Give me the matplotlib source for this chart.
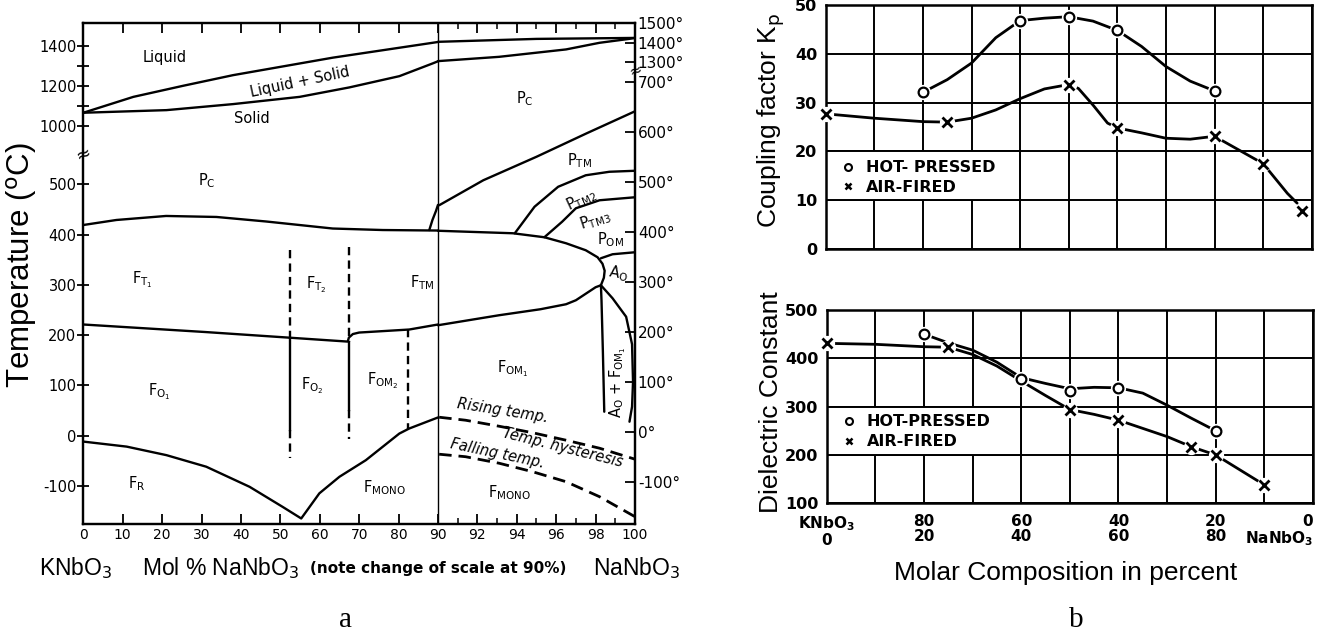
import numpy as np
import matplotlib
matplotlib.use('Agg')
import matplotlib.pyplot as plt
from matplotlib.lines import Line2D
from matplotlib.patches import Rectangle

# ======================= DATA : panel a (phase diagram) =======================
# Part 0-90 mol% NaNbO3 : temperatures read on the LEFT axis
liquidus_x = [0, 12.7, 25.3, 38, 63.3, 90]
liquidus_T = [1066, 1145, 1200, 1253, 1340, 1418]
solidus_x = [0, 21.1, 38, 54.9, 67.5, 80.2, 88.6, 90]
solidus_T = [1066, 1079, 1109, 1145, 1192, 1248, 1311, 1322]
curie_x = [0, 8.4, 21, 33.8, 46.4, 63.3, 76, 90]
curie_T = [419, 429, 437, 435, 426, 412, 409, 408]
ftm_low_x = [0, 31, 67.1, 67.4, 68.4, 70, 82.7, 90]
ftm_low_T = [221, 206, 187, 195, 202, 205, 211, 221]
ptm_start_x = [87.8, 88.6, 89.5, 90]
ptm_start_T = [409, 429, 447, 459]
fmono_x = [0, 11, 21.1, 31.2, 42.2, 50.6, 55.3, 59.9, 65, 71.7, 80.2, 82.7, 90]
fmono_T = [-12, -22, -39, -62, -102, -142, -165, -115, -82, -49, 4, 14, 36]
# vertical phase boundaries: composition, (top, bottom) temperatures, style
vb_x = [52.5, 52.5, 52.5, 67.5, 67.5, 67.5, 82.5]
vb_top = [369, 192, 11, 376, 187, 51, 213]
vb_bot = [192, 11, -45, 187, 51, -6, 14]
vb_style = ['--', '-', '--', '--', '-', '--', '--']

# Part 90-100 mol% NaNbO3 : temperatures read on the RIGHT axis
liqR_x = [90, 95, 100]
liqR_T = [1405, 1420, 1425]
solR_x = [90, 93.1, 96.5, 98.2, 99.7, 100]
solR_T = [1306, 1328, 1366, 1400, 1420, 1425]
curieR_x = [90, 93.8, 95.4, 96.5, 97.5, 98.1, 98.35, 98.46, 98.42, 98.27]
curieR_T = [402, 397, 389, 377, 363, 349, 336, 322, 308, 293]
ftmR_x = [90, 93.1, 95.2, 96.5, 97, 98, 98.27]
ftmR_T = [213, 233, 245, 255, 263, 289, 293]
aoL_x = [98.27, 98.3, 98.37, 98.44]
aoL_T = [293, 263, 160, 40]
aoR_x = [98.27, 98.86, 99.55, 99.85, 99.9, 99.85, 99.72]
aoR_T = [293, 267, 230, 175, 100, 50, 20]
pom_x = [98.27, 98.86, 100]
pom_T = [347, 355, 359]
ptm3_x = [95.4, 96.3, 97.0, 98.2, 100]
ptm3_T = [389, 420, 447, 463, 469]
ptm2_x = [93.9, 94.9, 96.1, 97.5, 98.7, 100]
ptm2_T = [397, 450, 490, 513, 520, 522]
ptm_x = [90.06, 92.3, 95.0, 97.55, 100]
ptm_T = [453, 503, 550, 597, 641]
rising_x = [90.06, 91.4, 93.1, 94.8, 96.5, 98.2, 100]
rising_T = [29, 23, 11, -2, -17, -33, -55]
falling_x = [90.06, 91.4, 93.1, 94.8, 96.5, 98.2, 100]
falling_T = [-45, -50, -63, -80, -100, -130, -170]

xticks_a = [0, 10, 20, 30, 40, 50, 60, 70, 80, 90, 92, 94, 96, 98, 100]
xminor_a = [91, 93, 95, 97, 99]
yticks_left = [-100, 0, 100, 200, 300, 400, 500, 1000, 1200, 1400]
yminor_left = [1100, 1300]
yticks_right = [-100, 0, 100, 200, 300, 400, 500, 600, 700, 1300, 1400, 1500]

# ======================= DATA : panel b =======================
kp_hp_x = [20, 40, 50, 60, 80]
kp_hp_y = [32.1, 46.8, 47.6, 44.8, 32.4]
kp_hp_curve_x = [20, 25, 30, 35, 40, 45, 50, 55, 60, 65, 70, 75, 80]
kp_hp_curve_y = [32.1, 34.7, 38.1, 43.3, 46.8, 47.3, 47.6, 46.7, 44.8, 41.5, 37.4, 34.4, 32.4]
kp_af_x = [0, 25, 50, 60, 80, 90, 98]
kp_af_y = [27.7, 26.0, 33.7, 24.8, 23.1, 17.5, 7.7]
kp_af_curve_x = [0, 10, 20, 25, 30, 35, 40, 45, 50, 52, 55, 58, 60, 65, 70, 75, 80, 85, 90, 95, 97]
kp_af_curve_y = [27.7, 26.8, 26.1, 26.0, 26.8, 28.5, 30.8, 32.8, 33.7, 32.9, 29.5, 25.8, 24.8,
                 23.8, 22.7, 22.5, 23.1, 20.3, 17.5, 11.4, 9.4]

eps_hp_x = [20, 40, 50, 60, 80]
eps_hp_y = [450, 358, 333, 339, 250]
eps_hp_curve_x = [20, 25, 30, 35, 40, 45, 50, 55, 60, 65, 70, 75, 80]
eps_hp_curve_y = [450, 432, 417, 392, 360, 348, 337, 340, 339, 328, 303, 276, 250]
eps_af_x = [0, 25, 50, 60, 75, 80, 90]
eps_af_y = [431, 423, 294, 272, 217, 200, 138]
eps_af_curve_x = [0, 10, 20, 25, 30, 35, 40, 45, 50, 55, 60, 65, 70, 75, 80, 85, 90]
eps_af_curve_y = [431, 429, 424, 423, 408, 384, 353, 323, 294, 284, 272, 255, 238, 217, 200, 169, 138]

comp_ticks = [0, 10, 20, 30, 40, 50, 60, 70, 80, 90, 100]
comp_labels = ['KNbO$_\\mathbf{3}$\n0', '', '80\n20', '', '60\n40', '', '40\n60', '',
               '20\n80', '', '0\nNaNbO$_\\mathbf{3}$']
legend_labels_top = ['HOT- PRESSED', 'AIR-FIRED']
legend_labels_bot = ['HOT-PRESSED', 'AIR-FIRED']

# ======================= scales =======================
def fx(x):
    return np.interp(x, [-1000, 90, 1000], [-1000, 90, 90 + 910 * 5])
def fx_inv(u):
    return np.interp(u, [-1000, 90, 90 + 910 * 5], [-1000, 90, 1000])
def fy(t):
    return np.interp(t, [-1000, 556, 860, 3000], [-1000, 556, 560, 1416])
def fy_inv(u):
    return np.interp(u, [-1000, 556, 560, 1416], [-1000, 556, 860, 3000])
def gy(t):
    return np.interp(t, [-1000, 720, 1270, 3000], [-1000, 720, 727.3, 1402])
def gy_inv(u):
    return np.interp(u, [-1000, 720, 727.3, 1402], [-1000, 720, 1270, 3000])

W, H = 1337, 635
fig = plt.figure(figsize=(W / 100, H / 100), dpi=100)
K = 'black'
LW = 1.7

# ======================= panel a =======================
ax = fig.add_axes([83.3 / W, 1 - 524 / H, (635 - 83.3) / W, (524 - 23.3) / H])
ax.set_xscale('function', functions=(fx, fx_inv))
ax.set_yscale('function', functions=(fy, fy_inv))
ax.set_xlim(0, 100)
ax.set_ylim(-176, 1511)
ax2 = ax.twinx()
ax2.set_yscale('function', functions=(gy, gy_inv))
ax2.set_ylim(-184.6, 1500)

for a in (ax, ax2):
    for s in a.spines.values():
        s.set_linewidth(1.6)

# left part
for xs, ts in [(liquidus_x, liquidus_T), (solidus_x, solidus_T), (curie_x, curie_T),
               (ftm_low_x, ftm_low_T), (ptm_start_x, ptm_start_T), (fmono_x, fmono_T)]:
    ax.plot(xs, ts, color=K, lw=LW, solid_capstyle='round')
for x0, t1, t2, st in zip(vb_x, vb_top, vb_bot, vb_style):
    ax.plot([x0, x0], [t1, t2], color=K, lw=LW, linestyle=st,
            dashes=(3.5, 2.2) if st == '--' else (None, None))
ax.axvline(90, color=K, lw=1.0)

# right part
for xs, ts in [(liqR_x, liqR_T), (solR_x, solR_T), (curieR_x, curieR_T), (ftmR_x, ftmR_T),
               (aoL_x, aoL_T), (aoR_x, aoR_T), (pom_x, pom_T), (ptm3_x, ptm3_T),
               (ptm2_x, ptm2_T), (ptm_x, ptm_T)]:
    ax2.plot(xs, ts, color=K, lw=LW, solid_capstyle='round')
ax2.plot(rising_x, rising_T, color=K, lw=2.0, dashes=(4.5, 2.5))
ax2.plot(falling_x, falling_T, color=K, lw=2.0, dashes=(4.5, 2.5))

# ticks
ax.set_xticks(xticks_a)
ax.set_xticklabels([str(v) for v in xticks_a])
ax.set_xticks(xminor_a, minor=True)
ax.tick_params(axis='x', which='major', direction='in', top=True, length=7, width=1.3,
               labelsize=10, pad=3)
ax.tick_params(axis='x', which='minor', direction='in', top=True, length=4, width=1.1)
ax.set_yticks(yticks_left)
ax.set_yticklabels([str(v) for v in yticks_left])
ax.set_yticks(yminor_left, minor=True)
ax.tick_params(axis='y', which='both', direction='inout', length=8, width=1.3, labelsize=10.5, pad=1)
ax2.set_yticks(yticks_right)
ax2.set_yticklabels(['%d°' % v for v in yticks_right])
ax2.tick_params(axis='y', direction='in', length=7, width=1.3, labelsize=11, pad=2)
ax2.yaxis.set_minor_locator(matplotlib.ticker.NullLocator())
ax.yaxis.set_minor_formatter(matplotlib.ticker.NullFormatter())

# scale break marks
ax.text(0, 700, '≈', ha='center', va='center', fontsize=13, rotation=20, clip_on=False)
ax2.text(100, 1000, '≈', ha='center', va='center', fontsize=11, rotation=20, clip_on=False)

# region labels
fs = 10.5
lab = dict(ha='center', va='center', fontsize=fs, color=K)
ax.text(20.7, 1342, 'Liquid', **lab)
ax.text(55.0, 1220, 'Liquid + Solid', rotation=12, **lab)
ax.text(42.7, 1035, 'Solid', **lab)
ax.text(31.3, 508, 'P$_\\mathrm{C}$', **lab)
ax.text(15.1, 310, 'F$_{\\mathrm{T}_1}$', **lab)
ax.text(59.2, 300, 'F$_{\\mathrm{T}_2}$', **lab)
ax.text(86.0, 304, 'F$_\\mathrm{TM}$', **lab)
ax.text(19.4, 87, 'F$_{\\mathrm{O}_1}$', **lab)
ax.text(58.2, 100, 'F$_{\\mathrm{O}_2}$', **lab)
ax.text(75.9, 110, 'F$_{\\mathrm{OM}_2}$', **lab)
ax.text(13.6, -95, 'F$_\\mathrm{R}$', **lab)
ax.text(76.4, -103, 'F$_\\mathrm{MONO}$', **lab)
ax2.text(94.4, 667, 'P$_\\mathrm{C}$', **lab)
ax2.text(97.2, 543, 'P$_\\mathrm{TM}$', **lab)
ax2.text(97.3, 463, 'P$_\\mathrm{TM2}$', rotation=25, **lab)
ax2.text(98.0, 423, 'P$_\\mathrm{TM3}$', rotation=18, **lab)
ax2.text(98.74, 384, 'P$_\\mathrm{OM}$', **lab)
ax2.text(99.14, 317, 'A$_\\mathrm{O}$', rotation=-10, **lab)
ax2.text(93.8, 127, 'F$_{\\mathrm{OM}_1}$', **lab)
ax2.text(99.12, 100, 'A$_\\mathrm{O}$ + F$_{\\mathrm{OM}_1}$', rotation=90, **lab)
ax2.text(93.3, 42, 'Rising temp.', rotation=-9, style='italic', **lab)
ax2.text(96.35, -32, 'Temp. hysteresis', rotation=-14, style='italic', **lab)
ax2.text(93.0, -43, 'Falling temp.', rotation=-12, style='italic', **lab)
ax2.text(93.6, -121, 'F$_\\mathrm{MONO}$', **lab)

# axis texts of panel a
fig.text(22 / W, 1 - 265 / H, 'Temperature ($^\\mathrm{o}$C)', rotation=90, ha='center', va='center',
         fontsize=22.5, family='Liberation Sans')
fig.text(76 / W, 1 - 568 / H, 'KNbO$_3$', ha='center', va='center', fontsize=16.5,
         family='Liberation Sans')
fig.text(142 / W, 1 - 568 / H, 'Mol % NaNbO$_3$', ha='left', va='center', fontsize=16.5,
         family='Liberation Sans')
fig.text(310 / W, 1 - 569 / H, '(note change of scale at 90%)', ha='left', va='center',
         fontsize=11, fontweight='bold')
fig.text(593 / W, 1 - 568 / H, 'NaNbO$_3$', ha='left', va='center', fontsize=16.5,
         family='Liberation Sans')
fig.text(345 / W, 1 - 620 / H, 'a', ha='center', va='center', fontsize=21, family='Liberation Serif')
fig.text(1076 / W, 1 - 620 / H, 'b', ha='center', va='center', fontsize=21, family='Liberation Serif')

# ======================= panel b =======================
def grid_panel(axp, ylim, yt, cell):
    axp.set_xlim(0, 100)
    axp.set_ylim(*ylim)
    axp.set_xticks(comp_ticks)
    axp.set_yticks(yt)
    axp.set_yticklabels([str(v) for v in yt], fontweight='bold')
    axp.grid(True, color=K, lw=1.4)
    axp.set_axisbelow(True)
    axp.tick_params(length=0, labelsize=11.5, pad=6)
    for s in axp.spines.values():
        s.set_linewidth(1.8)
    axp.add_patch(Rectangle((cell[0], cell[1]), cell[2], cell[3], facecolor='white',
                            edgecolor=K, lw=1.4, zorder=1))

def series(axp, cx, cy, mx, my, marker):
    axp.plot(cx, cy, color=K, lw=2.0, zorder=2, solid_capstyle='round')
    axp.plot(mx, my, 'o', ms=11, mfc='white', mec='none', zorder=3, clip_on=False)
    if marker == 'o':
        axp.plot(mx, my, 'o', ms=7, mfc='white', mec=K, mew=1.6, zorder=4, clip_on=False)
    else:
        axp.plot(mx, my, 'x', ms=6.5, mec=K, mew=2.0, zorder=4, clip_on=False)

def legend(axp, labels, yc):
    h = [Line2D([], [], ls='none', marker='o', ms=5, mfc='white', mec=K, mew=1.5),
         Line2D([], [], ls='none', marker='x', ms=5, mec=K, mew=1.8)]
    lg = axp.legend(h, labels, loc='center left', bbox_to_anchor=(0.03, yc), frameon=False,
                    borderpad=0, borderaxespad=0, handlelength=1.0, handletextpad=0.6,
                    labelspacing=0.3, prop=dict(weight='bold', size=11.5))
    lg.set_zorder(5)

axT = fig.add_axes([825.7 / W, 1 - 249 / H, (1311.7 - 825.7) / W, (249 - 5) / H])
grid_panel(axT, (0, 50), [0, 10, 20, 30, 40, 50], (0, 10, 40, 10))
axT.set_xticklabels([])
series(axT, kp_hp_curve_x, kp_hp_curve_y, kp_hp_x, kp_hp_y, 'o')
series(axT, kp_af_curve_x, kp_af_curve_y, kp_af_x, kp_af_y, 'x')
legend(axT, legend_labels_top, 0.293)

axB = fig.add_axes([826.7 / W, 1 - 503.3 / H, (1313 - 826.7) / W, (503.3 - 310) / H])
grid_panel(axB, (100, 500), [100, 200, 300, 400, 500], (0, 200, 40, 100))
axB.set_xticklabels(comp_labels, fontweight='bold', linespacing=1.0)
axB.tick_params(axis='x', pad=8, labelsize=11)
xl = axB.get_xticklabels()
xl[-1].set_horizontalalignment('right')
xl[-1].set_multialignment('right')
series(axB, eps_hp_curve_x, eps_hp_curve_y, eps_hp_x, eps_hp_y, 'o')
series(axB, eps_af_curve_x, eps_af_curve_y, eps_af_x, eps_af_y, 'x')
legend(axB, legend_labels_bot, 0.37)

fig.text(771 / W, 1 - 120 / H, 'Coupling factor K$_\\mathrm{p}$', rotation=90, ha='center', va='center',
         fontsize=19, family='Liberation Sans')
fig.text(771 / W, 1 - 402 / H, 'Dielectric Constant', rotation=90, ha='center', va='center',
         fontsize=19, family='Liberation Sans')
fig.text(1066 / W, 1 - 573 / H, 'Molar Composition in percent', ha='center', va='center',
         fontsize=19, family='Liberation Sans')

fig.savefig('out.png', dpi=100, facecolor='white')
